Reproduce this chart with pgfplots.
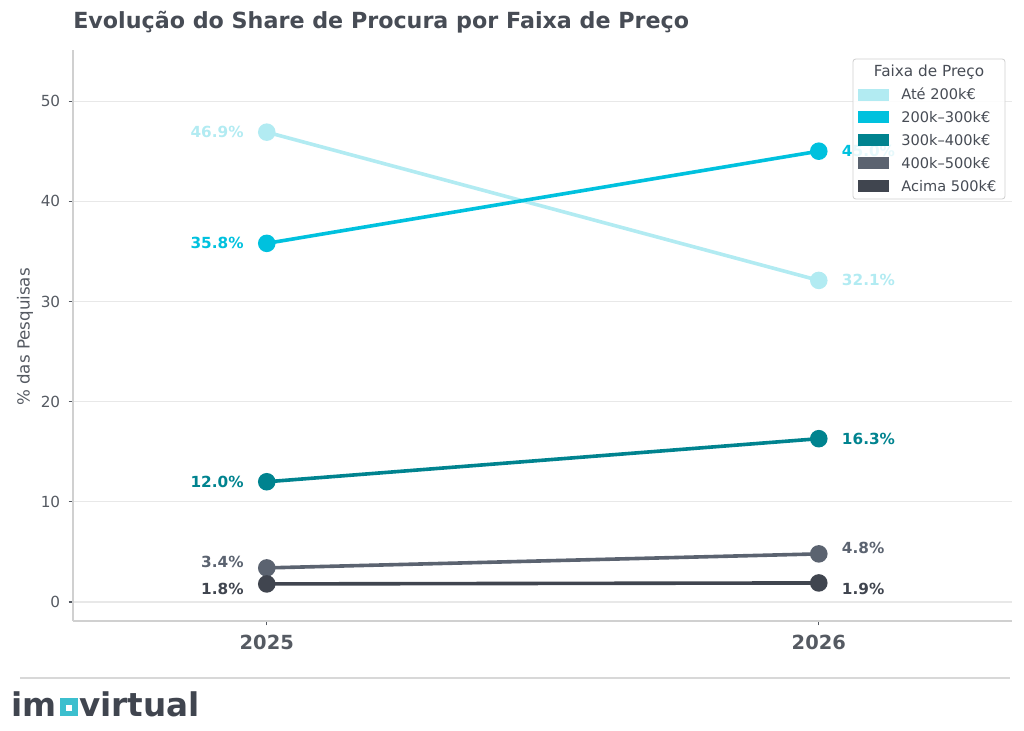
\documentclass[border=0pt]{standalone}
\usepackage{pgfplots}
\pgfplotsset{compat=1.18}
\usepackage{fontspec}
\setmainfont{DejaVu Sans}
\definecolor{cA}{HTML}{B2EBF2}
\definecolor{cB}{HTML}{00C1DE}
\definecolor{cC}{HTML}{00838F}
\definecolor{cD}{HTML}{5B6370}
\definecolor{cE}{HTML}{40454F}
\definecolor{txt}{HTML}{474C55}
\definecolor{tickc}{HTML}{555A62}
\definecolor{gridc}{HTML}{E8E8E8}
\definecolor{spine}{HTML}{D0D0D0}
\definecolor{logoc}{HTML}{3CBFCE}
\newcommand{\fs}[1]{\fontsize{#1}{#1}\selectfont}
\begin{document}
\begin{tikzpicture}
\useasboundingbox (0,0) rectangle (737.28pt,525.6pt);
\begin{axis}[
 at={(52.56pt,78.48pt)}, anchor=south west,
 scale only axis, width=676.08pt, height=411.12pt,
 xmin=2024.649, xmax=2026.35, ymin=-1.9, ymax=55.1,
 xtick={2025,2026}, xticklabels={2025,2026},
 ytick={0,10,20,30,40,50},
 separate axis lines,
 axis x line*=bottom, axis y line*=left,
 axis line style={-, spine, line width=0.8pt},
 tick align=outside,
 major tick length=3.2pt,
 major tick style={tickc, line width=0.8pt},
 ymajorgrids, major grid style={gridc, line width=0.8pt},
 /pgf/number format/assume math mode=true,
 xticklabel style={font=\bfseries\fs{14}, text=tickc, yshift=-3.5pt},
 yticklabel style={font=\fs{11}, text=tickc, xshift=-2.5pt},
 clip=false,
]
\addplot[cA, line width=2.6pt, mark=*, mark size=5pt, mark options={solid, fill=cA, draw=cA}] coordinates {(2025,46.9) (2026,32.1)};
\addplot[cB, line width=2.6pt, mark=*, mark size=5pt, mark options={solid, fill=cB, draw=cB}] coordinates {(2025,35.8) (2026,45.0)};
\addplot[cC, line width=2.6pt, mark=*, mark size=5pt, mark options={solid, fill=cC, draw=cC}] coordinates {(2025,12.0) (2026,16.3)};
\addplot[cD, line width=2.6pt, mark=*, mark size=5pt, mark options={solid, fill=cD, draw=cD}] coordinates {(2025,3.4) (2026,4.8)};
\addplot[cE, line width=2.6pt, mark=*, mark size=5pt, mark options={solid, fill=cE, draw=cE}] coordinates {(2025,1.8) (2026,1.9)};
\tikzset{lab/.style={font=\bfseries\fs{11}, inner sep=0pt}}
\node[lab, text=cA, anchor=east, xshift=-16.5pt] at (axis cs:2025,46.9) {46.9\%};
\node[lab, text=cB, anchor=east, xshift=-16.5pt] at (axis cs:2025,35.8) {35.8\%};
\node[lab, text=cC, anchor=east, xshift=-16.5pt] at (axis cs:2025,12.0) {12.0\%};
\node[lab, text=cD, anchor=east, xshift=-16.5pt, yshift=4.3pt] at (axis cs:2025,3.4) {3.4\%};
\node[lab, text=cE, anchor=east, xshift=-16.5pt, yshift=-3.6pt] at (axis cs:2025,1.8) {1.8\%};
\node[lab, text=cA, anchor=west, xshift=16.5pt] at (axis cs:2026,32.1) {32.1\%};
\node[lab, text=cB, anchor=west, xshift=16.5pt] at (axis cs:2026,45.0) {45.0\%};
\node[lab, text=cC, anchor=west, xshift=16.5pt] at (axis cs:2026,16.3) {16.3\%};
\node[lab, text=cD, anchor=west, xshift=16.5pt, yshift=4.3pt] at (axis cs:2026,4.8) {4.8\%};
\node[lab, text=cE, anchor=west, xshift=16.5pt, yshift=-4.3pt] at (axis cs:2026,1.9) {1.9\%};
\end{axis}
\begin{scope}[x=0.72pt, y=-0.72pt, shift={(0,525.6pt)}]
% title
\node[anchor=base west, inner sep=0pt, text=txt, font=\bfseries\fs{16}] at (73,29) {Evolução do Share de Procura por Faixa de Preço};
% y label
\node[rotate=90, text=tickc, font=\fs{12}, inner sep=0pt] at (25,337) {\% das Pesquisas};
% legend
\fill[white, opacity=0.9, rounded corners=2pt] (853,59) rectangle (1005,199);
\draw[spine, line width=0.6pt, rounded corners=2pt] (853,59) rectangle (1005,199);
\node[text=txt, font=\fs{11}, inner sep=0pt, anchor=base] at (929,77) {Faixa de Preço};
\foreach \c/\t/\yy in {cA/Até 200k€/95, cB/200k–300k€/117.5, cC/300k–400k€/140.5, cD/400k–500k€/163.5, cE/Acima 500k€/186.5}{
  \fill[\c] (858,\yy-6) rectangle (889,\yy+6);
  \node[text=txt, font=\fs{10.5}, inner sep=0pt, anchor=base west] at (901,\yy+5) {\t};
}
% bottom rule and logo
\draw[gridc!85!gray, line width=0.8pt] (20,678) -- (1010,678);
\node[anchor=base west, inner sep=0pt, text=cE, font=\bfseries\fs{23.5}] at (11,716.5) {im};
\fill[logoc] (60,698) rectangle (78,716);
\fill[white] (66,705) rectangle (72,711);
\node[anchor=base west, inner sep=0pt, text=cE, font=\bfseries\fs{23.5}] at (79,716.5) {virtual};
\end{scope}
\end{tikzpicture}
\end{document}
